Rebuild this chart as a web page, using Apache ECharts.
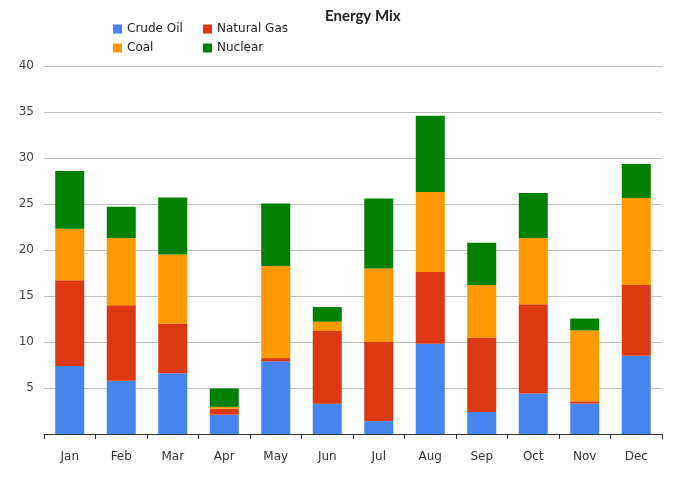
<!DOCTYPE html>
<html>
<head>
<meta charset="utf-8">
<script src="https://cdn.jsdelivr.net/npm/echarts@6/dist/echarts.min.js"></script>
<style>html,body{margin:0;padding:0;background:#fff}#c{width:682px;height:477px}</style>
</head>
<body>
<div id="c"></div>
<script>
var categories = ['Jan','Feb','Mar','Apr','May','Jun','Jul','Aug','Sep','Oct','Nov','Dec'];
var crudeOil   = [7.4, 5.8, 6.6, 2.1, 7.9, 3.3, 1.4, 9.8, 2.4, 4.4, 3.3, 8.5];
var naturalGas = [9.3, 8.2, 5.4, 0.65, 0.35, 7.9, 8.6, 7.8, 8.1, 9.7, 0.25, 7.7];
var coal       = [5.6, 7.3, 7.5, 0.2, 10.0, 1.0, 8.0, 8.7, 5.7, 7.2, 7.7, 9.45];
var nuclear    = [6.3, 3.4, 6.2, 2.0, 6.8, 1.6, 7.6, 8.3, 4.6, 4.9, 1.3, 3.7];
var yTicks = ['', '5', '10', '15', '20', '25', '30', '35', '40'];

var chart = echarts.init(document.getElementById('c'), null, {renderer: 'canvas'});
var font = 'DejaVu Sans';
function leg(name, left, top) {
  return {data: [name], left: left, top: top, itemWidth: 9, itemHeight: 9, itemGap: 0,
    icon: 'rect', padding: 0, selectedMode: false,
    textStyle: {fontFamily: font, fontSize: 12, color: '#222', padding: [1, 0, 0, 0]}};
}
var colors = ['#4684EE', '#DC3912', '#FF9900', '#008000'];
var names = ['Crude Oil', 'Natural Gas', 'Coal', 'Nuclear'];
var vals = [crudeOil, naturalGas, coal, nuclear];
chart.setOption({
  animation: false,
  color: colors,
  title: {text: 'Energy Mix', left: 325, top: 9, padding: 0,
    textStyle: {fontFamily: 'Lato', fontSize: 15, fontWeight: 'bold', color: '#222'}},
  legend: [leg('Crude Oil', 113, 23), leg('Natural Gas', 203, 23), leg('Coal', 113, 42), leg('Nuclear', 203, 42)],
  grid: {left: 44, right: 20, top: 66, bottom: 43, containLabel: false},
  xAxis: {type: 'category', data: categories,
    axisLine: {lineStyle: {color: '#333', width: 1}},
    axisTick: {show: true, length: 5, lineStyle: {color: '#333'}},
    axisLabel: {fontFamily: font, fontSize: 12, color: '#333', margin: 17}},
  yAxis: {type: 'value', min: 0, max: 40, interval: 5,
    axisLine: {show: false}, axisTick: {show: false},
    axisLabel: {fontFamily: font, fontSize: 12, color: '#444', margin: 10,
      formatter: function (v) { return yTicks[Math.round(v / 5)]; }},
    splitLine: {lineStyle: {color: '#c0c0c0', width: 1}}},
  series: names.map(function (n, i) {
    return {name: n, type: 'bar', stack: 'total', data: vals[i], barWidth: 29,
      itemStyle: {color: colors[i]}};
  })
});
</script>
</body>
</html>
